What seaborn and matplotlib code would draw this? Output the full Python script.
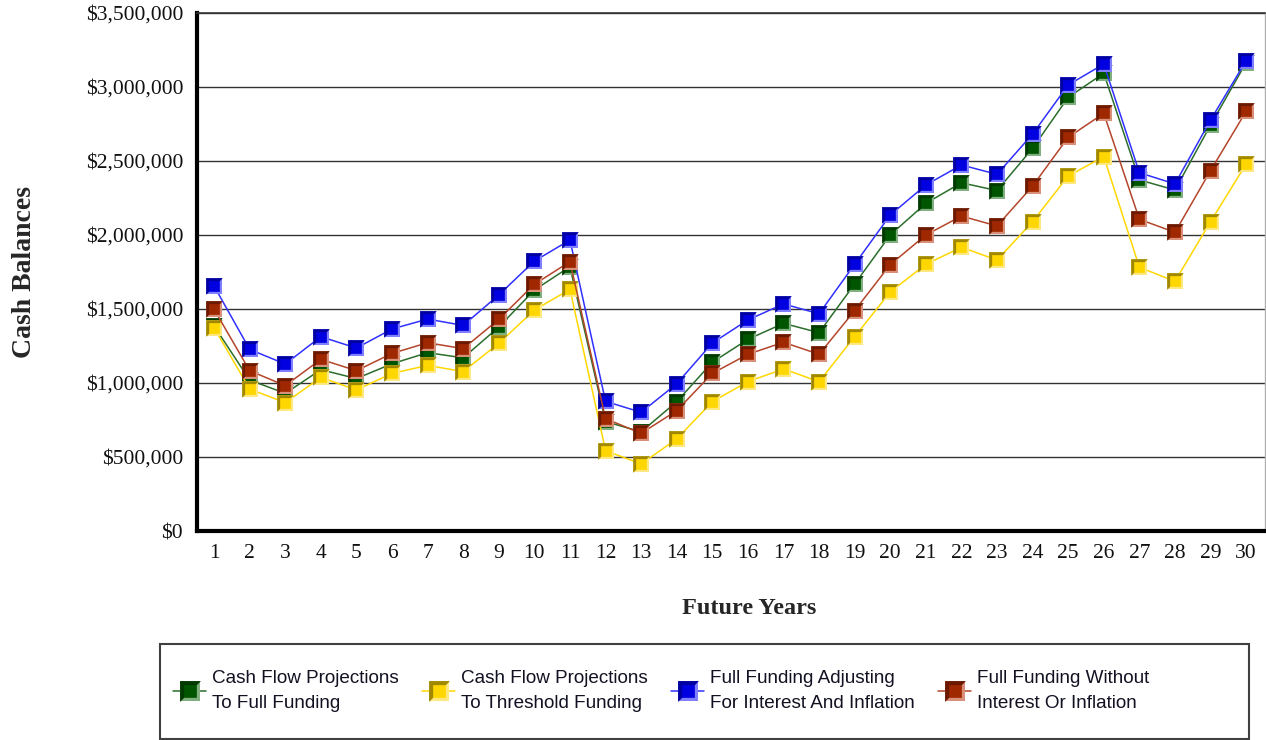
import matplotlib
matplotlib.use('Agg')
import matplotlib.pyplot as plt
import matplotlib.ticker as mticker
from matplotlib.path import Path
from matplotlib.patches import Rectangle
from matplotlib.legend_handler import HandlerTuple
import seaborn as sns

# data
years = list(range(1, 31))
full_funding = [1385000, 1020000, 930000, 1090000, 1030000, 1130000, 1205000, 1170000, 1378000, 1628000,
                1786000, 739000, 670000, 874000, 1140000, 1295000, 1403000, 1340000, 1669000, 2000000,
                2214000, 2353000, 2300000, 2586000, 2930000, 3093000, 2372000, 2304000, 2743000, 3165000]
threshold_funding = [1374000, 959000, 867000, 1038000, 953000, 1065000, 1119000, 1077000, 1268000, 1493000,
                     1633000, 543000, 453000, 622000, 874000, 1009000, 1095000, 1009000, 1313000, 1615000,
                     1802000, 1917000, 1831000, 2090000, 2399000, 2529000, 1782000, 1687000, 2090000, 2480000]
adjusting = [1655000, 1227000, 1128000, 1313000, 1236000, 1365000, 1432000, 1389000, 1595000, 1824000,
             1966000, 876000, 802000, 995000, 1270000, 1426000, 1534000, 1468000, 1802000, 2135000,
             2338000, 2473000, 2410000, 2682000, 3014000, 3155000, 2421000, 2345000, 2777000, 3178000]
without_interest = [1498000, 1083000, 982000, 1160000, 1083000, 1200000, 1272000, 1232000, 1430000, 1667000,
                    1820000, 759000, 660000, 813000, 1065000, 1194000, 1275000, 1194000, 1489000, 1800000,
                    2000000, 2128000, 2061000, 2331000, 2660000, 2822000, 2106000, 2018000, 2435000, 2836000]

labels = ['Cash Flow Projections\nTo Full Funding',
          'Cash Flow Projections\nTo Threshold Funding',
          'Full Funding Adjusting\nFor Interest And Inflation',
          'Full Funding Without\nInterest Or Inflation']

# line, bevel dark, bevel light, face
styles = [
    ('#2b6e2b', '#003a00', '#80b080', '#005500'),
    ('#ffd700', '#a08800', '#ffe880', '#ffd700'),
    ('#3030ff', '#0000a0', '#8080ff', '#0000e0'),
    ('#b4452a', '#6b1a00', '#d8907a', '#a02800'),
]

sns.set_style('white')
plt.rcParams['font.family'] = ['Liberation Serif', 'DejaVu Serif']

fig = plt.figure(figsize=(12.66, 7.4), dpi=100)
ax = fig.add_axes([197 / 1266, 1 - 531 / 740, (1265 - 197) / 1266, (531 - 13) / 740])

tri = Path([(-1, -1), (-1, 1), (1, 1), (-1, -1)])
ms = 12

handles = []
for vals, (lc, dark, light, face) in zip([full_funding, threshold_funding, adjusting, without_interest], styles):
    sns.lineplot(x=years, y=vals, ax=ax, color=lc, lw=1.1, marker='s', markersize=ms,
                 markerfacecolor=light, markeredgewidth=0)
    l1 = ax.lines[-1]
    l2, = ax.plot(years, vals, ls='none', marker=tri, ms=ms, color=dark, mew=0)
    l3, = ax.plot(years, vals, ls='none', marker='s', ms=ms * 0.55, mfc=face, mec=face, mew=0.5)
    handles.append((l1, l2, l3))

ax.set_xlim(0.52, 30.53)
ax.set_ylim(0, 3500000)
ax.set_xticks(years)
ax.set_yticks(range(0, 3500001, 500000))
ax.yaxis.set_major_formatter(mticker.FuncFormatter(lambda v, p: '${:,.0f}'.format(v)))
ax.tick_params(axis='both', length=0, labelsize=15.5, labelcolor='#111111')
ax.tick_params(axis='y', pad=10)
ax.tick_params(axis='x', pad=9)
ax.grid(axis='y', color='#333333', lw=1.0)
ax.set_axisbelow(True)
ax.set_xlabel('')
ax.set_ylabel('')

for s in ['left', 'bottom']:
    ax.spines[s].set_color('black')
    ax.spines[s].set_linewidth(3)
ax.spines['top'].set_color('#333333')
ax.spines['top'].set_linewidth(1.2)
ax.spines['right'].set_color('#b0b0b0')
ax.spines['right'].set_linewidth(1)

fig.text(25 / 1266, 1 - 272 / 740, 'Cash Balances', rotation=90, ha='center', va='center',
         fontsize=20, fontweight='bold')
fig.text(749 / 1266, 1 - 609 / 740, 'Future Years', ha='center', va='center',
         fontsize=17.5, fontweight='bold')

leg = fig.legend(handles, labels, handler_map={tuple: HandlerTuple(ndivide=1, pad=0)},
                 loc='center left', bbox_to_anchor=(156 / 1266, 1 - 691 / 740),
                 bbox_transform=fig.transFigure, ncol=4, frameon=False, numpoints=1,
                 markerscale=1.25, handlelength=1.75, handletextpad=0.3, columnspacing=1.25,
                 prop={'family': 'Liberation Sans', 'size': 13.6})
for t in leg.get_texts():
    t.set_linespacing(1.55)
    t.set_color('#111122')

fig.patches.append(Rectangle((160 / 1266, 1 / 740), 1089 / 1266, 95 / 740, transform=fig.transFigure,
                             fill=False, edgecolor='#404040', lw=1.5))

fig.savefig('out.png', dpi=100)
